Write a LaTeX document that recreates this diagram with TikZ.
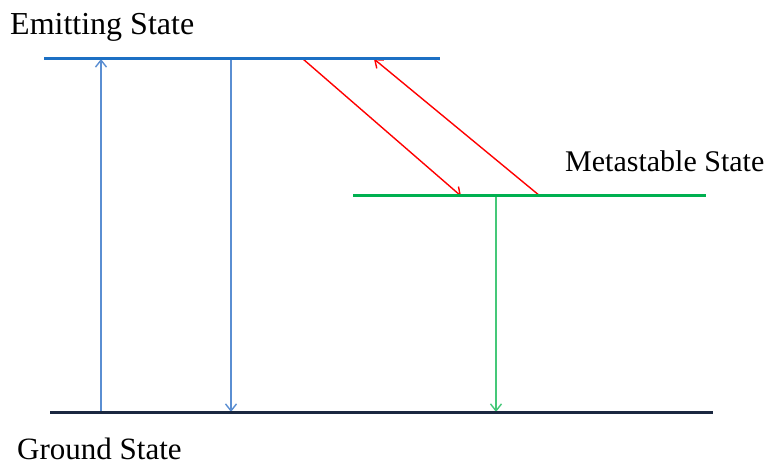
\documentclass[tikz,border=0pt]{standalone}
\usepackage{fontspec}
\setmainfont{Liberation Serif}
\usetikzlibrary{arrows.meta}
\definecolor{emitblue}{HTML}{1C70C4}
\definecolor{arrowblue}{HTML}{5A8ED2}
\definecolor{metagreen}{HTML}{00B050}
\definecolor{arrowgreen}{HTML}{45C878}
\definecolor{groundnavy}{HTML}{1B2840}
\tikzset{
  level/.style={line width=3pt},
  lbl/.style={anchor=base west, inner sep=0pt, font=\fontsize{32}{36}\selectfont},
  trans/.style={line width=1.4pt, -{Straight Barb[length=7pt,width=11pt,line width=1.4pt]}},
}
\begin{document}
\begin{tikzpicture}[x=1pt,y=-1pt]
\useasboundingbox (0,0) rectangle (777,465);
% level endpoints
\coordinate (eL) at (44,59);   \coordinate (eR) at (440,59);
\coordinate (mL) at (353,196); \coordinate (mR) at (706,196);
\coordinate (gL) at (50,412);  \coordinate (gR) at (713,412);
% labels
\node[lbl] (emit) at (10,35) {Emitting State};
\node[lbl, font=\fontsize{30}{35}\selectfont] (meta) at (565,172) {Metastable State};
\node[lbl, font=\fontsize{31}{36}\selectfont] (ground) at (17,459) {Ground State};
% transition points
\coordinate (a1b) at (101,412); \coordinate (a1t) at (101,59);
\coordinate (a2t) at (231,59);  \coordinate (a2b) at (231,412);
\coordinate (a3t) at (496,196); \coordinate (a3b) at (496,412);
\coordinate (r1s) at (303,59);  \coordinate (r1e) at (461,196);
\coordinate (r2s) at (540,196); \coordinate (r2e) at (374,59);
% arrows
\draw[trans, arrowblue] (a1b) -- (a1t);
\draw[trans, arrowblue] (a2t) -- (a2b);
\draw[trans, arrowgreen] (a3t) -- (a3b);
\draw[trans, red] (r1s) -- (r1e);
\draw[trans, red] (r2s) -- (r2e);
% levels
\draw[level, emitblue] (eL) -- (eR);
\draw[level, metagreen] (mL) -- (mR);
\draw[level, groundnavy] (gL) -- (gR);
\end{tikzpicture}
\end{document}
